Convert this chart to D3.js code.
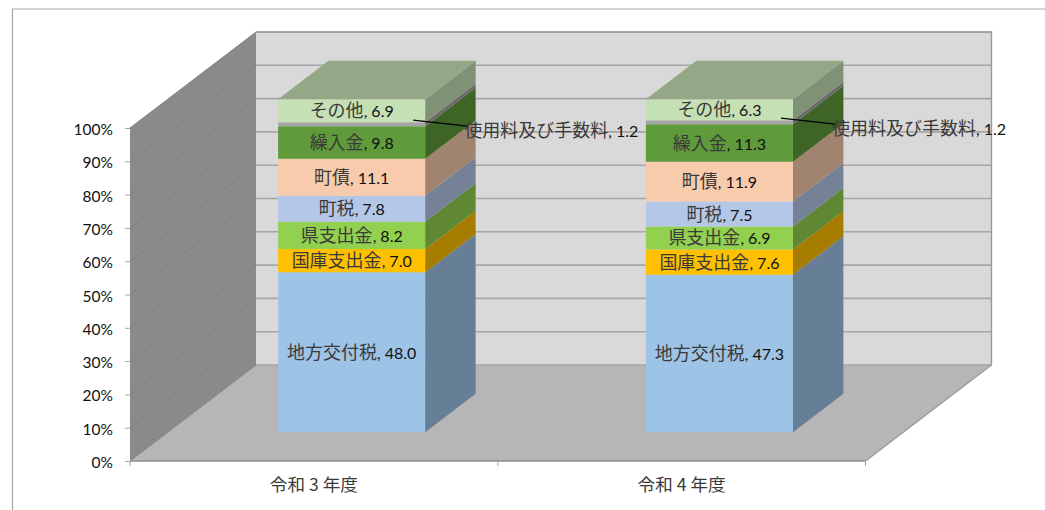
<!DOCTYPE html>
<html lang="ja">
<head>
<meta charset="utf-8">
<script src="https://cdn.jsdelivr.net/npm/d3@7"></script>
<style>
  body { margin: 0; background: #fff; }
  text { font-family: "Lato", "Noto Sans CJK JP", sans-serif; fill: #111; }
  .jp { font-family: "Noto Sans CJK JP", sans-serif; fill: #3a3a3a; }
</style>
</head>
<body>
<div id="chart"></div>
<script>
// Data
const categories = ["令和 3 年度", "令和 4 年度"];
const seriesNames = ["地方交付税", "国庫支出金", "県支出金", "町税", "町債", "繰入金", "使用料及び手数料", "その他"];
const valuesR3 = [48.0, 7.0, 8.2, 7.8, 11.1, 9.8, 1.2, 6.9];
const valuesR4 = [47.3, 7.6, 6.9, 7.5, 11.9, 11.3, 1.2, 6.3];
const colors = ["#9DC3E6", "#FFC000", "#92D050", "#B4C7E7", "#F8CBAD", "#5F9A3B", "#A5A5A5", "#C5E0B4"];
const yTicks = [0, 10, 20, 30, 40, 50, 60, 70, 80, 90, 100];

const width = 1045, height = 510;

// Front plane of the 3D box and how far back it goes
const left = 130, right = 865.5, bottom = 461, top100 = 128;
const depthX = 126, depthY = -96;
const barFront = 0.3, barBack = 0.7;

const x = d3.scaleBand().domain(categories).range([left, right]);
const y = d3.scaleLinear().domain([0, 100]).range([bottom, top100]);

// project a (px, py) from the front plane to depth t (0 front, 1 back wall)
function project(px, py, t) {
  return [px + depthX * t, py + depthY * t];
}
function poly(g, pts, fill) {
  return g.append("polygon")
    .attr("points", pts.map(p => p.join(",")).join(" "))
    .attr("fill", fill);
}

const svg = d3.select("#chart").append("svg")
  .attr("width", width)
  .attr("height", height)
  .style("display", "block");

// Chart frame, only top and left are inside the picture
svg.append("path")
  .attr("d", `M12.5,${height} V9 H${width}`)
  .attr("fill", "none")
  .attr("stroke", "#a6a6a6")
  .attr("stroke-width", 1.2);

// Walls and floor
const walls = svg.append("g");
poly(walls, [project(left, top100, 1), project(right, top100, 1), project(right, bottom, 1), project(left, bottom, 1)], "#D9D9D9");
poly(walls, [project(left, top100, 0), project(left, top100, 1), project(left, bottom, 1), project(left, bottom, 0)], "#8A8A8A");
poly(walls, [project(left, bottom, 0), project(left, bottom, 1), project(right, bottom, 1), project(right, bottom, 0)], "#B6B6B6");

// Gridlines on the back wall and the side wall
yTicks.forEach(t => {
  const a = project(left, y(t), 0), b = project(left, y(t), 1), c = project(right, y(t), 1);
  walls.append("line")
    .attr("x1", a[0]).attr("y1", a[1]).attr("x2", b[0]).attr("y2", b[1])
    .attr("stroke", "#828282").attr("stroke-width", 1);
  walls.append("line")
    .attr("x1", b[0]).attr("y1", b[1]).attr("x2", c[0]).attr("y2", c[1])
    .attr("stroke", "#A6A6A6").attr("stroke-width", 1.6);
});

// Outer edges
const topLeft = project(left, top100, 1), topRight = project(right, top100, 1),
      backRight = project(right, bottom, 1), frontRight = project(right, bottom, 0);
walls.append("path")
  .attr("d", `M${topLeft} L${topRight} L${backRight} L${frontRight}`)
  .attr("fill", "none")
  .attr("stroke", "#9a9a9a")
  .attr("stroke-width", 1.4);
walls.append("line")
  .attr("x1", left).attr("y1", bottom).attr("x2", right).attr("y2", bottom)
  .attr("stroke", "#8c8c8c").attr("stroke-width", 1.6);

// Stacked bars
const stack = d3.stack().keys(d3.range(seriesNames.length));
const stacked = stack([valuesR3, valuesR4]);
const yearValues = [valuesR3, valuesR4];

const bars = svg.append("g");
const labels = svg.append("g");
const barX0 = c => x(c) + x.bandwidth() * 0.3;
const barX1 = c => x(c) + x.bandwidth() * 0.7;

categories.forEach((cat, ci) => {
  seriesNames.forEach((name, si) => {
    const s = stacked[si][ci];
    const col = d3.color(colors[si]);
    const shade = k => d3.rgb(col.r * k, col.g * k, col.b * k).formatHex();
    const x0 = barX0(cat), x1 = barX1(cat);

    poly(bars, [project(x0, y(s[0]), barFront), project(x1, y(s[0]), barFront), project(x1, y(s[1]), barFront), project(x0, y(s[1]), barFront)], colors[si]);
    poly(bars, [project(x1, y(s[0]), barFront), project(x1, y(s[0]), barBack), project(x1, y(s[1]), barBack), project(x1, y(s[1]), barFront)], shade(0.65));
    if (si === seriesNames.length - 1) {
      poly(bars, [project(x0, y(s[1]), barFront), project(x1, y(s[1]), barFront), project(x1, y(s[1]), barBack), project(x0, y(s[1]), barBack)], shade(0.75));
    }
  });
});

// Data labels
categories.forEach((cat, ci) => {
  seriesNames.forEach((name, si) => {
    const s = stacked[si][ci];
    const val = yearValues[ci][si];
    const c = project((barX0(cat) + barX1(cat)) / 2, y((s[0] + s[1]) / 2), barFront);
    let lx = c[0], ly = c[1];
    if (name === "使用料及び手数料") {
      // this label is pulled out to the right, with a leader line
      const edge = project(barX1(cat), y((s[0] + s[1]) / 2), barFront);
      lx = edge[0] + 126;
      ly = edge[1] + 6;
      labels.append("line")
        .attr("x1", edge[0] - 12).attr("y1", edge[1] - 4)
        .attr("x2", edge[0] + 42).attr("y2", edge[1] + 2)
        .attr("stroke", "#000").attr("stroke-width", 1.2);
    }
    const label = labels.append("text")
      .attr("x", lx)
      .attr("y", ly + 1)
      .attr("dy", "0.35em")
      .attr("text-anchor", "middle");
    label.append("tspan").attr("class", "jp").style("font-size", "18px").text(name);
    label.append("tspan").style("font-size", "16px").text(`, ${val.toFixed(1)}`);
  });
});

// Value axis
const yAxis = d3.axisLeft(y)
  .tickValues(yTicks)
  .tickFormat(d => d + "%")
  .tickSize(5)
  .tickPadding(12);
svg.append("g")
  .attr("transform", `translate(${left},0)`)
  .call(yAxis)
  .call(g => g.select(".domain").remove())
  .call(g => g.selectAll(".tick line").attr("stroke", "#a6a6a6"))
  .call(g => g.selectAll(".tick text").attr("dy", "0.42em").style("font-size", "15.5px").style("font-family", null));

// Category axis
const xAxis = d3.axisBottom(x).tickSize(0).tickPadding(18);
svg.append("g")
  .attr("transform", `translate(0,${bottom})`)
  .call(xAxis)
  .call(g => g.select(".domain").remove())
  .call(g => g.selectAll(".tick text").attr("class", "jp").style("font-size", "17.6px").style("font-family", null).attr("fill", null));

[left, left + x.bandwidth(), right].forEach(px => {
  svg.append("line")
    .attr("x1", px).attr("x2", px)
    .attr("y1", bottom).attr("y2", bottom + 5)
    .attr("stroke", "#a6a6a6");
});
</script>
</body>
</html>
